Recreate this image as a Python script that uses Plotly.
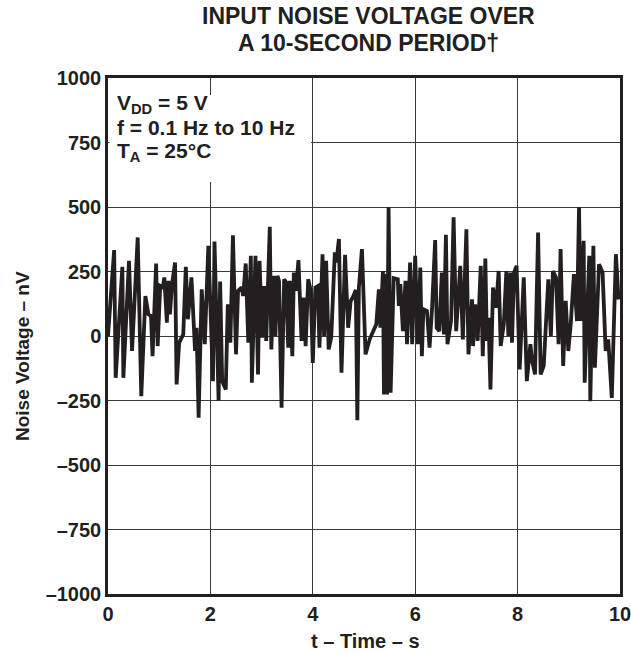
import plotly.graph_objects as go

# Time (s) and noise voltage (nV)
time_s = [
    0.00, 0.12, 0.15, 0.28, 0.30, 0.41, 0.47, 0.58, 0.65, 0.73, 0.79, 0.84, 0.87, 0.94, 0.97,
    1.02, 1.07, 1.10, 1.15, 1.18, 1.21, 1.25, 1.31, 1.34, 1.39, 1.47, 1.52, 1.56, 1.63, 1.70,
    1.73, 1.77, 1.83, 1.89, 1.96, 2.05, 2.08, 2.16, 2.19, 2.23, 2.30, 2.34, 2.39, 2.44, 2.50,
    2.54, 2.61, 2.64, 2.69, 2.74, 2.79, 2.81, 2.88, 2.93, 2.96, 3.01, 3.05, 3.09, 3.16, 3.19,
    3.24, 3.27, 3.31, 3.34, 3.39, 3.44, 3.48, 3.52, 3.55, 3.60, 3.63, 3.67, 3.72, 3.78, 3.82,
    3.86, 3.91, 3.96, 4.00, 4.05, 4.10, 4.13, 4.19, 4.22, 4.26, 4.31, 4.36, 4.43, 4.46, 4.51,
    4.56, 4.63, 4.69, 4.74, 4.78, 4.84, 4.87, 4.90, 4.96, 5.03, 5.11, 5.24, 5.29, 5.32, 5.37,
    5.39, 5.42, 5.45, 5.48, 5.52, 5.58, 5.66, 5.68, 5.71, 5.76, 5.81, 5.84, 5.90, 5.94, 6.00,
    6.05, 6.10, 6.13, 6.16, 6.23, 6.28, 6.33, 6.39, 6.42, 6.47, 6.52, 6.56, 6.60, 6.63, 6.67,
    6.70, 6.75, 6.80, 6.88, 6.93, 7.00, 7.04, 7.11, 7.13, 7.17, 7.22, 7.28, 7.32, 7.37, 7.40,
    7.43, 7.47, 7.52, 7.58, 7.63, 7.67, 7.73, 7.78, 7.82, 7.86, 7.89, 7.93, 7.98, 8.04, 8.12,
    8.18, 8.25, 8.28, 8.34, 8.40, 8.45, 8.51, 8.60, 8.65, 8.69, 8.75, 8.80, 8.84, 8.89, 8.94,
    8.99, 9.04, 9.10, 9.16, 9.20, 9.23, 9.29, 9.31, 9.40, 9.42, 9.48, 9.51, 9.59, 9.66, 9.72,
    9.77, 9.84, 9.92, 9.97, 10.00,
]
noise_nv = [
    0, 333, -162, 268, -162, 291, -58, 382, -233, 155, 84, 78, -78, 281, -39,
    194, 188, 227, 52, 214, 84, 200, 285, -188, -26, 6, 268, 65, 227, -58,
    32, -317, 181, -32, 350, -175, 366, -250, 211, -175, -207, 123, -26, 390, -71,
    175, 188, 155, 281, -26, 311, -181, 311, -149, 291, -6, 194, -19, 423, -52,
    233, 0, 233, 214, -278, 220, 207, -45, 214, -78, 246, 175, 294, -19, 149,
    -39, 220, 175, -104, 188, 194, -45, 317, 0, 291, -52, -6, 324, 285, 376,
    -142, 315, 32, 136, 149, 178, -326, 188, 337, -71, -13, 45, 181, 32, 252,
    -227, 240, -227, 499, -220, 224, 220, 117, 201, 19, 214, -32, 285, -32, 311,
    -32, 265, -78, 104, 97, -45, 110, 372, 32, 19, 246, 6, 392, -32, 19,
    58, 460, 19, 272, -13, 414, -71, 142, -39, 123, -19, 272, -78, 300, -19,
    71, -207, 188, 110, 252, -39, 45, 252, 0, 246, -26, 246, 272, -130, 227,
    -175, -32, -91, -149, 401, -149, -116, 220, 0, 252, 227, -32, 337, -116, 136,
    -58, 52, 240, 58, 499, 58, 369, -181, 311, -253, 350, -123, 278, 246, -58,
    -13, -240, 317, 149, 150,
]

x_ticks = [0, 2, 4, 6, 8, 10]
x_tick_text = ["0", "2", "4", "6", "8", "10"]
y_ticks = [1000, 750, 500, 250, 0, -250, -500, -750, -1000]
y_tick_text = ["1000", "750", "500", "250", "0", "–250", "–500", "–750", "–1000"]

title_lines = ["INPUT NOISE VOLTAGE OVER", "A 10-SECOND PERIOD†"]
condition_lines = ["V<sub>DD</sub> = 5 V", "f = 0.1 Hz to 10 Hz", "T<sub>A</sub> = 25°C"]
x_title = "t – Time – s"
y_title = "Noise Voltage – nV"

ink = "#231f20"
font_family = "Liberation Sans, Arial, sans-serif"

W, H = 631, 653
L, R, T, B = 108, 620, 78, 594
pw, ph = R - L, B - T


def px(x):
    return (x - L) / pw


def py(y):
    return (B - y) / ph


fig = go.Figure()
fig.add_trace(go.Scatter(
    x=time_s, y=noise_nv, mode="lines",
    line=dict(color=ink, width=3.8),
    showlegend=False, hoverinfo="skip",
))

fig.update_layout(
    width=W, height=H,
    margin=dict(l=L, r=W - R, t=T, b=H - B),
    paper_bgcolor="white", plot_bgcolor="white",
    font=dict(family=font_family, color=ink),
    xaxis=dict(
        range=[0, 10], tickvals=x_ticks, ticktext=["<b>%s</b>" % t for t in x_tick_text],
        showgrid=True, gridcolor="#3a3a3a", gridwidth=1,
        showline=True, linecolor=ink, linewidth=2.5, mirror=True,
        ticks="", zeroline=False, ticklabeloverflow="allow",
        tickfont=dict(size=20, family=font_family, color=ink),
        automargin=False,
    ),
    yaxis=dict(
        range=[-1000, 1000], tickvals=y_ticks, ticktext=["<b>%s</b>" % t for t in y_tick_text],
        showgrid=True, gridcolor="#3a3a3a", gridwidth=1,
        showline=True, linecolor=ink, linewidth=2.5, mirror=True,
        ticks="", zeroline=False, ticklabeloverflow="allow",
        tickfont=dict(size=20, family=font_family, color=ink),
        automargin=False,
    ),
)

# title lines
for text, yc in zip(title_lines, [16, 43]):
    fig.add_annotation(
        xref="paper", yref="paper", x=px(368), y=py(yc),
        xanchor="center", yanchor="middle", showarrow=False, borderpad=0,
        text="<b>%s</b>" % text,
        font=dict(size=23, family=font_family, color=ink),
    )

# axis titles
fig.add_annotation(
    xref="paper", yref="paper", x=px(365), y=py(641),
    xanchor="center", yanchor="middle", showarrow=False,
    text="<b>%s</b>" % x_title,
    font=dict(size=20, family=font_family, color=ink),
)
fig.add_annotation(
    xref="paper", yref="paper", x=px(22), y=py(356),
    xanchor="center", yanchor="middle", showarrow=False, textangle=-90,
    text="<b>%s</b>" % y_title,
    font=dict(size=19, family=font_family, color=ink),
)

# white panel behind the conditions text
fig.add_shape(
    type="rect", xref="paper", yref="paper",
    x0=px(109.5), x1=px(311), y0=py(182), y1=py(95),
    fillcolor="white", line=dict(width=0), layer="above",
)
for text, yc in zip(condition_lines, [104, 128, 152]):
    fig.add_annotation(
        xref="paper", yref="paper", x=px(116), y=py(yc),
        xanchor="left", yanchor="middle", showarrow=False, borderpad=0,
        text="<b>%s</b>" % text,
        font=dict(size=21, family=font_family, color=ink),
    )

fig.write_html("out.html", config={"displayModeBar": False},
               post_script="document.body.style.margin='0';")
